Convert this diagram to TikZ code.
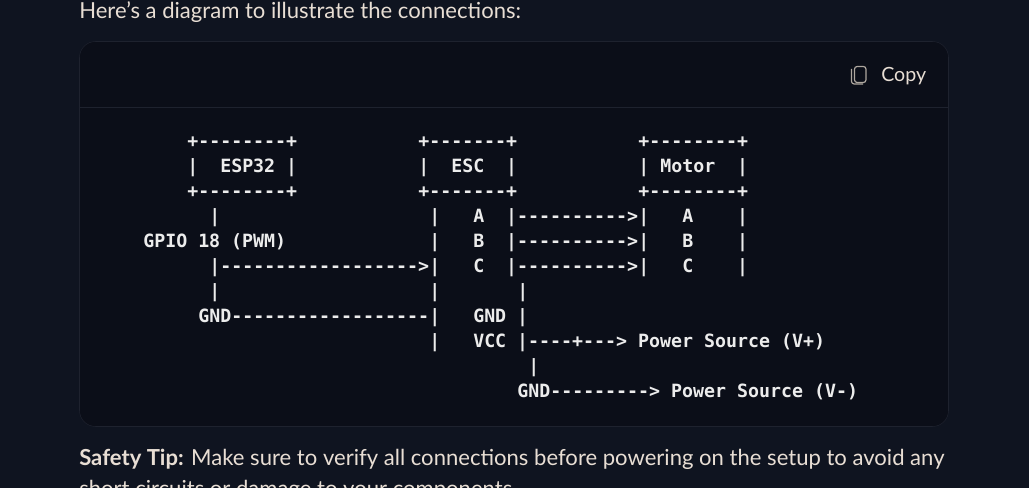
\documentclass[tikz,border=0pt]{standalone}
\usepackage{fontspec}
\setmainfont{Lato}
\newfontfamily\asciifont{DejaVu Sans Mono}
\usetikzlibrary{calc}
\definecolor{pagebg}{RGB}{15,20,32}
\definecolor{codebg}{RGB}{11,14,24}
\definecolor{cardline}{RGB}{30,34,46}
\definecolor{prose}{RGB}{232,222,212}
\definecolor{codetext}{RGB}{236,236,236}

\begin{document}
\begin{tikzpicture}[x=0.75pt, y=-0.75pt,
	            ascii/.style={
	                anchor=base west,
	                inner sep=0pt,
	                text=codetext,
	                font=\asciifont\bfseries\fontsize{13.7pt}{16pt}\selectfont
	            },
	            para/.style={
	                anchor=base west,
	                inner sep=0pt,
	                text=prose,
	                font=\fontsize{16.55pt}{20pt}\selectfont
	            }]

	        \useasboundingbox (0,0) rectangle (1029,488);
	        \clip (0,0) rectangle (1029,488);
	        \fill[pagebg] (0,0) rectangle (1029,488);

	        % card
	        \draw[cardline, fill=codebg, rounded corners=12pt] (79.5,41.5) rectangle (948.5,426.5);
	        \draw[cardline] (80,107.5) -- (948,107.5);

	        % text around the card
	        \node[para] (intro) at (79,18.5) {Here's a diagram to illustrate the connections:};
	        \node[para] (tip) at (79,465.5) {\textbf{Safety Tip:} Make sure to verify all connections before powering on the setup to avoid any};
	        \node[para] (tipnext) at (79,496) {short circuits or damage to your components.};

	        % copy button
	        \draw[prose!75!black, line width=0.9pt, rounded corners=2pt] (854.5,66.5) rectangle (866,82.5);
	        \draw[prose!75!black, line width=0.9pt, rounded corners=2pt] (851.5,69) -- (851.5,84) -- (863,84);
	        \node[para, font=\fontsize{14.7pt}{18pt}\selectfont] (copy) at (881,81.5) {Copy};

	        \begin{scope}[shift={(143,147.7)}, x=8.25pt, y=-18.75pt]
	        % esp32
	        \node[ascii] (espTop) at (4,0) {+--------+};
	        \node[ascii] (espName) at (4,1) {|~~ESP32~|};
	        \node[ascii] (espBottom) at (4,2) {+--------+};
	        \node[ascii] (espBar1) at (6,3) {|};
	        \node[ascii] (gpio) at (0,4) {GPIO 18 (PWM)};
	        \node[ascii] (pwmWire) at (6,5) {|------------------>};
	        \node[ascii] (espBar2) at (6,6) {|};
	        \node[ascii] (gndWire) at (5,7) {GND------------------};

	        % esc
	        \node[ascii] (escTop) at (25,0) {+-------+};
	        \node[ascii] (escName) at (25,1) {|~~ESC~~|};
	        \node[ascii] (escBottom) at (25,2) {+-------+};
	        \node[ascii] (escA) at (26,3) {|~~~A~~|---------->};
	        \node[ascii] (escB) at (26,4) {|~~~B~~|---------->};
	        \node[ascii] (escC) at (26,5) {|~~~C~~|---------->};
	        \node[ascii] (escBar1) at (26,6) {|};
	        \node[ascii] (escBar2) at (34,6) {|};
	        \node[ascii] (escGnd) at (26,7) {|~~~GND~|};
	        \node[ascii] (escVcc) at (26,8) {|~~~VCC~|----+--->~Power~Source~(V+)};
	        \node[ascii] (psuBar) at (35,9) {|};
	        \node[ascii] (psuGnd) at (34,10) {GND--------->~Power~Source~(V-)};

	        % motor
	        \node[ascii] (motorTop) at (45,0) {+--------+};
	        \node[ascii] (motorName) at (45,1) {|~Motor~~|};
	        \node[ascii] (motorBottom) at (45,2) {+--------+};
	        \node[ascii] (motorA) at (45,3) {|~~~A~~~~|};
	        \node[ascii] (motorB) at (45,4) {|~~~B~~~~|};
	        \node[ascii] (motorC) at (45,5) {|~~~C~~~~|};
	        \end{scope}

	    \end{tikzpicture}
\end{document}
